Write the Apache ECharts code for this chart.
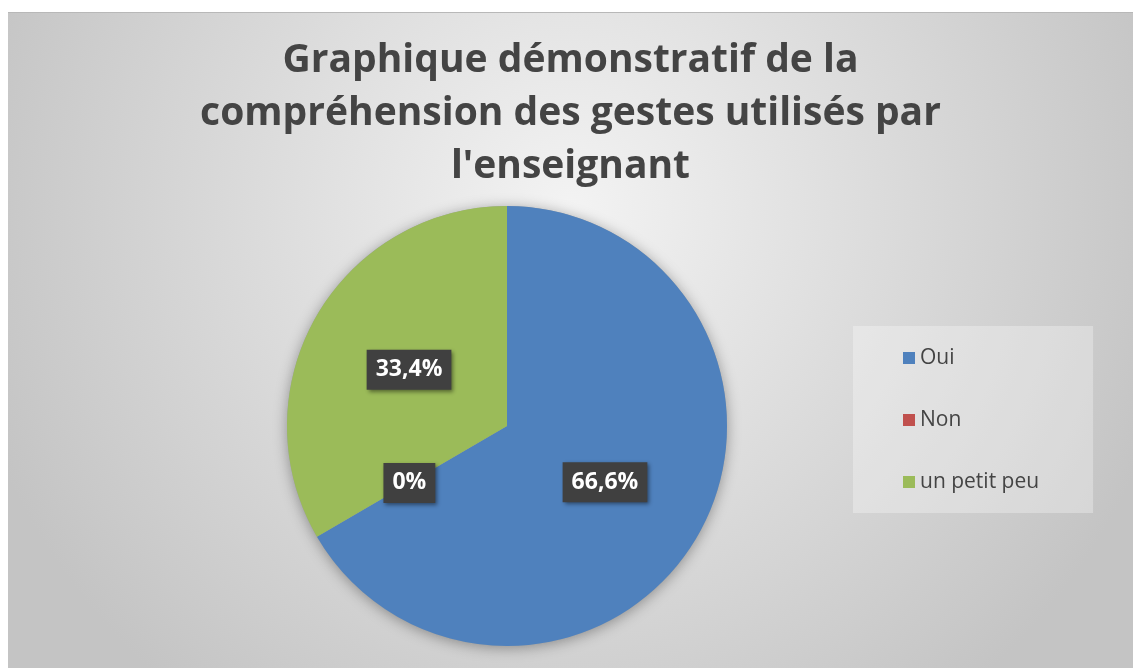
<!DOCTYPE html>
<html>
<head>
<meta charset="utf-8">
<script src="https://cdn.jsdelivr.net/npm/echarts@6/dist/echarts.min.js"></script>
<style>
  html, body { margin: 0; padding: 0; background: #fff; }
  #main { position: absolute; left: 8px; top: 12px; width: 1125px; height: 656px; border-top: 1px solid #b8b8b8; }
</style>
</head>
<body>
<div id="main"></div>
<script>
// données
var categories = ['Oui', 'Non', 'un petit peu'];
var values = [66.6, 0, 33.4];
var colors = ['#4f81bd', '#c0504d', '#9bbb59'];

var chartDom = document.getElementById('main');
var myChart = echarts.init(chartDom);

var pieData = categories.map(function (name, i) {
  return { name: name, value: values[i], itemStyle: { color: colors[i] } };
});

var option = {
  backgroundColor: {
    type: 'radial', x: 0.5, y: 0.3, r: 0.95,
    colorStops: [
      { offset: 0, color: '#f3f3f3' },
      { offset: 1, color: '#c4c4c4' }
    ]
  },
  title: {
    text: 'Graphique démonstratif de la\ncompréhension des gestes utilisés par\nl\'enseignant',
    left: 'center',
    top: 16,
    textStyle: {
      fontFamily: 'Open Sans',
      fontWeight: 'bold',
      fontSize: 39,
      lineHeight: 53,
      color: '#444444'
    }
  },
  legend: {
    data: categories,
    orient: 'vertical',
    left: 845,
    top: 313,
    padding: [21, 54, 20, 50],
    backgroundColor: 'rgba(255,255,255,0.3)',
    itemGap: 40,
    itemWidth: 12,
    itemHeight: 12,
    itemTextGap: 6,
    icon: 'rect',
    textStyle: {
      fontFamily: 'Open Sans',
      fontSize: 21,
      lineHeight: 22,
      color: '#444444'
    }
  },
  series: [
    {
      // ombre du disque
      type: 'pie',
      silent: true,
      center: [499, 413],
      radius: 220,
      z: 1,
      label: { show: false },
      labelLine: { show: false },
      itemStyle: {
        color: '#9aa0a6',
        shadowBlur: 14,
        shadowColor: 'rgba(0,0,0,0.35)',
        shadowOffsetY: 2
      },
      data: [{ name: '_ombre', value: 1 }]
    },
    {
      type: 'pie',
      center: [499, 413],
      radius: 220,
      startAngle: 90,
      clockwise: true,
      z: 2,
      avoidLabelOverlap: false,
      itemStyle: { borderWidth: 0 },
      label: {
        show: true,
        position: 'inside',
        formatter: function (p) {
          return String(p.value).replace('.', ',') + '%';
        },
        fontFamily: 'Open Sans',
        fontWeight: 'bold',
        fontSize: 23,
        lineHeight: 26,
        color: '#ffffff',
        backgroundColor: '#404040',
        padding: [7, 9, 7, 9],
        shadowBlur: 4,
        shadowOffsetX: 2,
        shadowOffsetY: 2,
        shadowColor: 'rgba(0,0,0,0.45)'
      },
      labelLine: { show: false },
      emphasis: { scale: false },
      data: pieData
    }
  ]
};

option && myChart.setOption(option);
</script>
</body>
</html>
